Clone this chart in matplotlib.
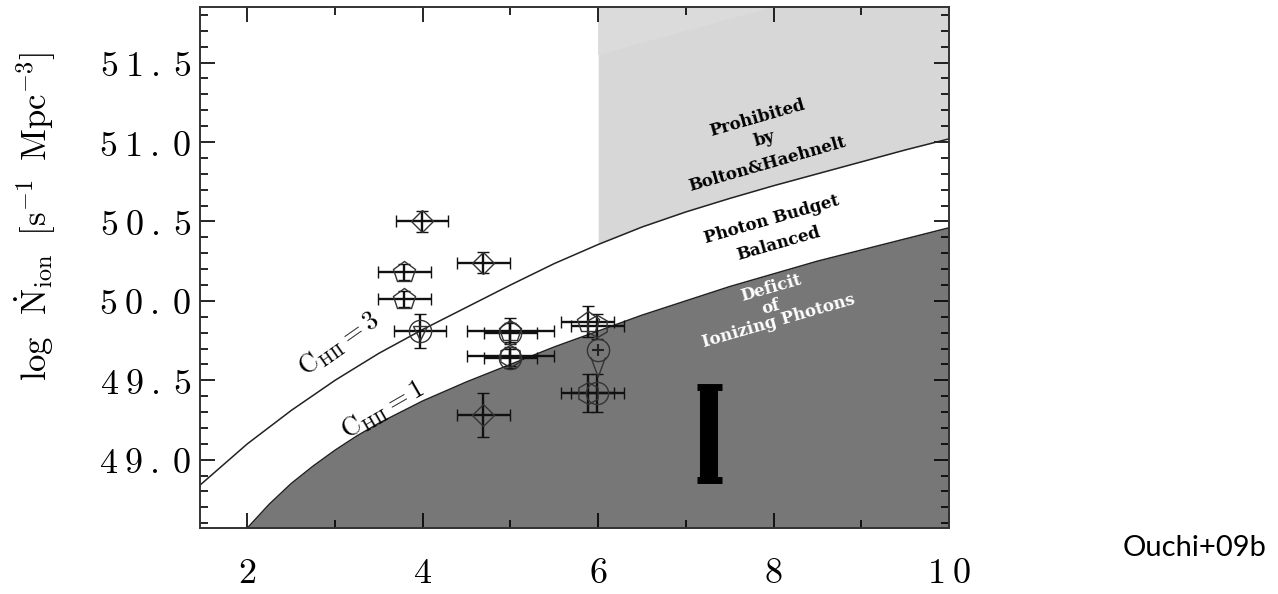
import numpy as np
import matplotlib
matplotlib.use('Agg')
import matplotlib.pyplot as plt
from matplotlib.ticker import FuncFormatter

plt.rcParams['mathtext.fontset'] = 'cm'

# model curves (redshift, log N_ion)
curve_c3_z = [1.46, 2.0, 2.5, 3.0, 3.5, 4.0, 4.5, 5.0, 5.5, 6.0, 6.5, 7.0, 7.5, 8.0, 8.5, 9.0, 9.5, 10.0]
curve_c3_n = [48.84, 49.10, 49.31, 49.50, 49.67, 49.82, 49.96, 50.10, 50.235, 50.355, 50.465, 50.56,
              50.645, 50.725, 50.80, 50.875, 50.95, 51.02]
curve_c1_z = [2.0, 2.25, 2.5, 2.75, 3.0, 3.25, 3.5, 4.0, 4.5, 5.0, 5.5, 6.0, 6.5, 7.0, 7.5, 8.0, 8.5,
              9.0, 9.5, 10.0]
curve_c1_n = [48.57, 48.72, 48.85, 48.96, 49.06, 49.15, 49.23, 49.37, 49.49, 49.60, 49.71, 49.81, 49.91,
              50.00, 50.09, 50.17, 50.25, 50.32, 50.39, 50.46]

# measurements
diam_z = [3.99, 4.69, 4.69]
diam_n = [50.50, 50.24, 49.28]
diam_zerr = [0.3, 0.3, 0.3]
diam_nerr = [0.066, 0.065, 0.14]

pent_z = [3.79, 3.79, 5.88, 5.0]
pent_n = [50.18, 50.01, 49.87, 49.81]
pent_zerr = [0.3, 0.3, 0.3, 0.5]
pent_nerr = [0.05, 0.05, 0.1, 0.08]

hexa_z = [5.99, 5.88, 5.0]
hexa_n = [49.84, 49.42, 49.65]
hexa_zerr = [0.3, 0.3, 0.5]
hexa_nerr = [0.08, 0.12, 0.06]

circ_z = [3.97, 5.0, 5.0, 5.99]
circ_n = [49.81, 49.80, 49.64, 49.42]
circ_zerr = [0.3, 0.3, 0.3, 0.3]
circ_nerr = [0.107, 0.06, 0.06, 0.12]

limit_z = [6.0]
limit_n = [49.69]
limit_arrow = [0.17]

sys_z = [7.26]
sys_lo = [48.87]
sys_hi = [49.46]

xlim = (1.46, 10.0)
ylim = (48.57, 51.85)

fig = plt.figure(figsize=(12.78, 5.94), dpi=100)
ax = fig.add_axes([0.1565, 0.1111, 0.5861, 0.8771])

zc3 = np.array(curve_c3_z)
nc3 = np.array(curve_c3_n)
zc1 = np.array(curve_c1_z)
nc1 = np.array(curve_c1_n)

# deficit region below C=1
ax.fill_between(np.concatenate([[xlim[0]], zc1]), np.concatenate([[ylim[0]], nc1]), ylim[0] - 1,
                color='#777777', lw=0, zorder=1)
# prohibited region above C=3 for z>=6, slightly lighter wedge near the top left
m = zc3 >= 6.0
ax.fill_between(zc3[m], nc3[m], ylim[1] + 1, color='#d7d7d7', lw=0, zorder=1)
ax.fill([6.0, 6.0, 8.0], [51.55, ylim[1], ylim[1]], color='#dbdbdb', lw=0, zorder=1)
ax.plot(zc3, nc3, color='#222222', lw=1.1, zorder=2)
ax.plot(zc1, nc1, color='#222222', lw=1.1, zorder=2)

ekw = dict(ls='none', ecolor='#111111', elinewidth=1.7, capsize=4, capthick=1.7, zorder=4)
mkw = dict(mfc='none', mec='#333333', mew=1.0)
ax.errorbar(diam_z, diam_n, xerr=diam_zerr, yerr=diam_nerr, marker='D', ms=11, **mkw, **ekw)
ax.errorbar(pent_z, pent_n, xerr=pent_zerr, yerr=pent_nerr, marker='p', ms=16, **mkw, **ekw)
ax.errorbar(hexa_z, hexa_n, xerr=hexa_zerr, yerr=hexa_nerr, marker='h', ms=16, **mkw, **ekw)
ax.errorbar(circ_z, circ_n, xerr=circ_zerr, yerr=circ_nerr, marker='o', ms=16, **mkw, **ekw)
ax.plot([circ_z[0]], [circ_n[0] - 0.01], marker='v', ms=10, ls='none', **mkw, zorder=5)

# upper limit
ax.plot(limit_z, limit_n, marker='o', ms=16, ls='none', **mkw, zorder=5)
ax.plot(limit_z, limit_n, marker='+', ms=8, ls='none', color='#222222', mew=1.5, zorder=5)
for z, n, a in zip(limit_z, limit_n, limit_arrow):
    ax.plot([z - 0.08, z, z + 0.08], [n - 0.05, n - a, n - 0.05], color='#333333', lw=1.0, zorder=5)

# systematic uncertainty bar
for z, lo, hi in zip(sys_z, sys_lo, sys_hi):
    ax.errorbar([z], [(lo + hi) / 2], yerr=[(hi - lo) / 2], ls='none', ecolor='black',
                elinewidth=13, capsize=9, capthick=5, zorder=6)

# region and curve labels
bold = dict(family='DejaVu Serif', fontweight='bold', fontsize=12, ha='center', va='center',
            rotation=16, rotation_mode='anchor', zorder=7)
ax.text(7.81, 51.15, 'Prohibited', **bold)
ax.text(7.90, 51.02, 'by', **bold)
ax.text(7.93, 50.86, 'Bolton&Haehnelt', **bold)
ax.text(7.98, 50.51, 'Photon Budget', **bold)
ax.text(8.06, 50.36, 'Balanced', **bold)
ax.text(7.97, 50.08, 'Deficit', color='white', **bold)
ax.text(7.97, 49.96, 'of', color='white', **bold)
ax.text(8.06, 49.87, 'Ionizing Photons', color='white', **bold)

ax.text(3.05, 49.73, r'$\mathrm{C}_{\mathrm{HII}}= 3$', fontsize=19, ha='center', va='center',
        rotation=35, rotation_mode='anchor', zorder=7)
ax.text(3.55, 49.31, r'$\mathrm{C}_{\mathrm{HII}}= 1$', fontsize=19, ha='center', va='center',
        rotation=30, rotation_mode='anchor', zorder=7)

ax.set_xlim(*xlim)
ax.set_ylim(*ylim)
ax.set_xticks([2, 4, 6, 8, 10])
ax.set_xticks([3, 5, 7, 9], minor=True)
ax.set_yticks([49.0, 49.5, 50.0, 50.5, 51.0, 51.5])
ax.set_yticks(np.arange(48.6, 51.85, 0.1), minor=True)


def spaced(v, fmt):
    s = fmt.format(v)
    return '$' + r'\:'.join(s) + '$'


ax.xaxis.set_major_formatter(FuncFormatter(lambda v, p: spaced(v, '{:.0f}')))
ax.yaxis.set_major_formatter(FuncFormatter(lambda v, p: spaced(v, '{:.1f}')))
ax.tick_params(which='both', direction='in', top=True, right=True, width=1.2, labelsize=26)
ax.tick_params(which='major', length=11)
ax.tick_params(which='minor', length=6)
ax.tick_params(axis='x', pad=20)
ax.tick_params(axis='y', pad=6)
for s in ax.spines.values():
    s.set_linewidth(1.4)
    s.set_color('#333333')
    s.set_zorder(8)

fig.text(35 / 1278, 1 - 216 / 594,
         r'$\log\;\;\dot{\mathrm{N}}_{\mathrm{ion}}\;\;[\mathrm{s}^{-1}\;\;\mathrm{Mpc}^{-3}]$',
         rotation=90, fontsize=25, ha='center', va='center')
fig.text(1195 / 1278, 1 - 548 / 594, 'Ouchi+09b', family='Lato', fontsize=21,
         ha='center', va='center')

fig.savefig('out.png', dpi=100)
